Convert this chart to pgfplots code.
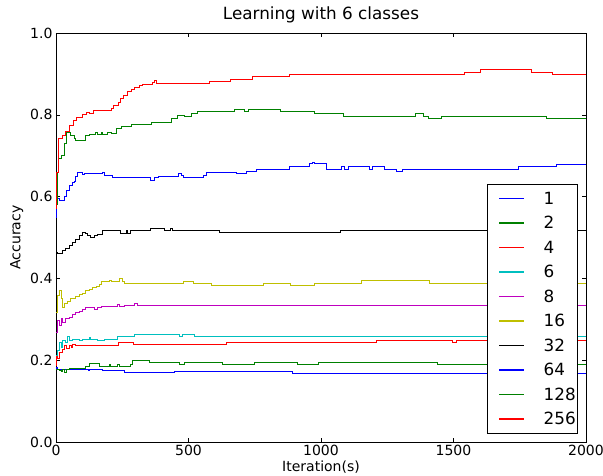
\documentclass[border=0pt]{standalone}
\usepackage{fontspec}
\setmainfont{DejaVu Sans}
\usepackage{pgfplots}
\pgfplotsset{compat=1.18}
\definecolor{mb}{rgb}{0,0,1}
\definecolor{mg}{rgb}{0,0.5,0}
\definecolor{mr}{rgb}{1,0,0}
\definecolor{mc}{rgb}{0,0.75,0.75}
\definecolor{mm}{rgb}{0.75,0,0.75}
\definecolor{my}{rgb}{0.75,0.75,0}
\begin{document}
\begin{tikzpicture}
\begin{axis}[
  width=530pt, height=409pt, scale only axis,
  xmin=0, xmax=2000, ymin=0, ymax=1,
  xtick={0,500,1000,1500,2000},
  ytick={0,0.2,0.4,0.6,0.8,1.0},
  tick align=inside, major tick length=4pt,
  every tick/.style={black, line width=0.6pt},
  axis line style={black, line width=0.8pt},
  /pgf/number format/assume math mode=true,
  xticklabel style={font=\fontsize{14}{16}\selectfont, /pgf/number format/1000 sep={}},
  yticklabel style={font=\fontsize{14}{16}\selectfont, /pgf/number format/.cd, fixed, fixed zerofill, precision=1},
  title={Learning with 6 classes},
  title style={font=\fontsize{16.8}{20}\selectfont},
  xlabel={Iteration(s)}, ylabel={Accuracy},
  label style={font=\fontsize{14}{16}\selectfont},
  xlabel style={inner sep=1pt},
  every axis plot/.append style={line width=1pt, const plot, mark=none},
  legend cell align=left,
  legend image code/.code={\path (0pt,0pt); \draw[#1, line width=1.5pt] (12pt,0pt) -- (37pt,0pt); \path (50pt,0pt);},
  legend style={at={(0.983,0.022)}, anchor=south east, draw=black, fill=white,
    font=\fontsize{16.8}{16.8}\selectfont, inner xsep=0pt, inner ysep=7pt,
    /tikz/row sep=10.5pt, /tikz/column sep=5pt,
    nodes={inner sep=1pt, text height=12pt, text depth=0pt}},
]
% 1
\addplot[mb] coordinates {(0,0.178) (3,0.181) (6,0.178) (122,0.174) (128,0.178) (176,0.174) (257,0.169) (446,0.173) (894,0.168) (2000,0.168)};
% 2
\addplot[mg] coordinates {(0,0.178) (12,0.176) (20,0.172) (26,0.178) (32,0.17) (38,0.178) (50,0.18) (110,0.185) (125,0.193) (163,0.185) (202,0.189) (207,0.185) (233,0.189) (238,0.184) (282,0.19) (289,0.2) (352,0.195) (465,0.19) (484,0.195) (630,0.19) (748,0.195) (913,0.19) (991,0.195) (1440,0.19) (2000,0.19)};
% 4
\addplot[mr] coordinates {(0,0.187) (2,0.211) (5,0.203) (12,0.219) (25,0.227) (32,0.235) (38,0.229) (50,0.235) (57,0.231) (63,0.239) (75,0.235) (88,0.237) (125,0.235) (176,0.237) (234,0.244) (292,0.238) (644,0.243) (1210,0.249) (1496,0.243) (1510,0.249) (2000,0.249)};
% 6
\addplot[mc] coordinates {(0,0.211) (5,0.223) (12,0.243) (20,0.231) (26,0.247) (37,0.243) (44,0.257) (52,0.247) (63,0.251) (88,0.247) (100,0.251) (126,0.255) (132,0.251) (157,0.247) (183,0.251) (233,0.257) (296,0.264) (466,0.259) (478,0.264) (524,0.259) (2000,0.259)};
% 8
\addplot[mm] coordinates {(0,0.268) (4,0.297) (12,0.285) (19,0.301) (26,0.292) (36,0.301) (50,0.305) (63,0.311) (75,0.316) (88,0.319) (100,0.324) (113,0.329) (145,0.324) (156,0.329) (170,0.331) (233,0.335) (239,0.331) (257,0.333) (296,0.339) (308,0.334) (2000,0.334)};
% 16
\addplot[my] coordinates {(0,0.317) (4,0.358) (12,0.37) (19,0.35) (26,0.329) (32,0.339) (44,0.343) (56,0.35) (75,0.356) (88,0.36) (100,0.364) (113,0.37) (126,0.373) (138,0.377) (151,0.381) (163,0.384) (172,0.392) (202,0.396) (208,0.392) (240,0.4) (250,0.393) (258,0.388) (481,0.393) (518,0.388) (588,0.382) (782,0.388) (886,0.382) (977,0.388) (1151,0.394) (1411,0.388) (2000,0.388)};
% 32
\addplot[black] coordinates {(0,0.40) (2,0.464) (6,0.46) (25,0.468) (37,0.474) (50,0.48) (63,0.488) (75,0.496) (88,0.504) (100,0.513) (113,0.509) (120,0.504) (132,0.499) (145,0.505) (157,0.507) (176,0.517) (245,0.511) (265,0.516) (270,0.511) (280,0.517) (358,0.521) (409,0.517) (433,0.521) (440,0.517) (616,0.513) (1072,0.517) (2000,0.517)};
% 64
\addplot[mb] coordinates {(0,0.55) (3,0.595) (12,0.59) (32,0.6) (38,0.614) (50,0.626) (63,0.634) (70,0.638) (75,0.65) (81,0.66) (100,0.655) (107,0.657) (175,0.66) (182,0.652) (213,0.646) (358,0.64) (370,0.646) (385,0.65) (463,0.657) (475,0.652) (482,0.646) (555,0.652) (568,0.66) (683,0.657) (720,0.662) (757,0.667) (883,0.673) (958,0.68) (967,0.683) (977,0.68) (1022,0.667) (1077,0.673) (1090,0.667) (1103,0.673) (1184,0.667) (1194,0.673) (1238,0.667) (1285,0.662) (1306,0.667) (1745,0.673) (1890,0.678) (2000,0.678)};
% 128
\addplot[mg] coordinates {(0,0.58) (4,0.66) (10,0.692) (22,0.70) (32,0.729) (38,0.757) (55,0.75) (68,0.741) (75,0.737) (110,0.75) (125,0.752) (150,0.757) (155,0.752) (170,0.757) (175,0.752) (195,0.757) (208,0.755) (230,0.767) (248,0.772) (285,0.776) (360,0.78) (372,0.782) (435,0.79) (460,0.798) (485,0.795) (510,0.802) (535,0.808) (675,0.813) (712,0.808) (725,0.813) (848,0.808) (975,0.802) (1084,0.796) (1355,0.802) (1386,0.796) (1405,0.791) (1456,0.796) (1852,0.791) (2000,0.791)};
% 256
\addplot[mr] coordinates {(0,0.57) (3,0.66) (8,0.741) (25,0.75) (34,0.758) (50,0.773) (65,0.785) (78,0.794) (100,0.8) (116,0.806) (128,0.802) (140,0.81) (211,0.816) (218,0.822) (235,0.83) (242,0.839) (255,0.848) (268,0.856) (285,0.862) (298,0.867) (315,0.871) (328,0.874) (365,0.878) (372,0.883) (380,0.877) (581,0.882) (657,0.887) (743,0.893) (883,0.898) (1540,0.904) (1600,0.91) (1795,0.904) (1874,0.898) (2000,0.898)};
\legend{1,2,4,6,8,16,32,64,128,256}
\end{axis}
\pgfresetboundingbox
\path ([xshift=-56pt,yshift=-33pt]current axis.south west) rectangle ([xshift=17pt,yshift=33pt]current axis.north east);
\end{tikzpicture}
\end{document}
